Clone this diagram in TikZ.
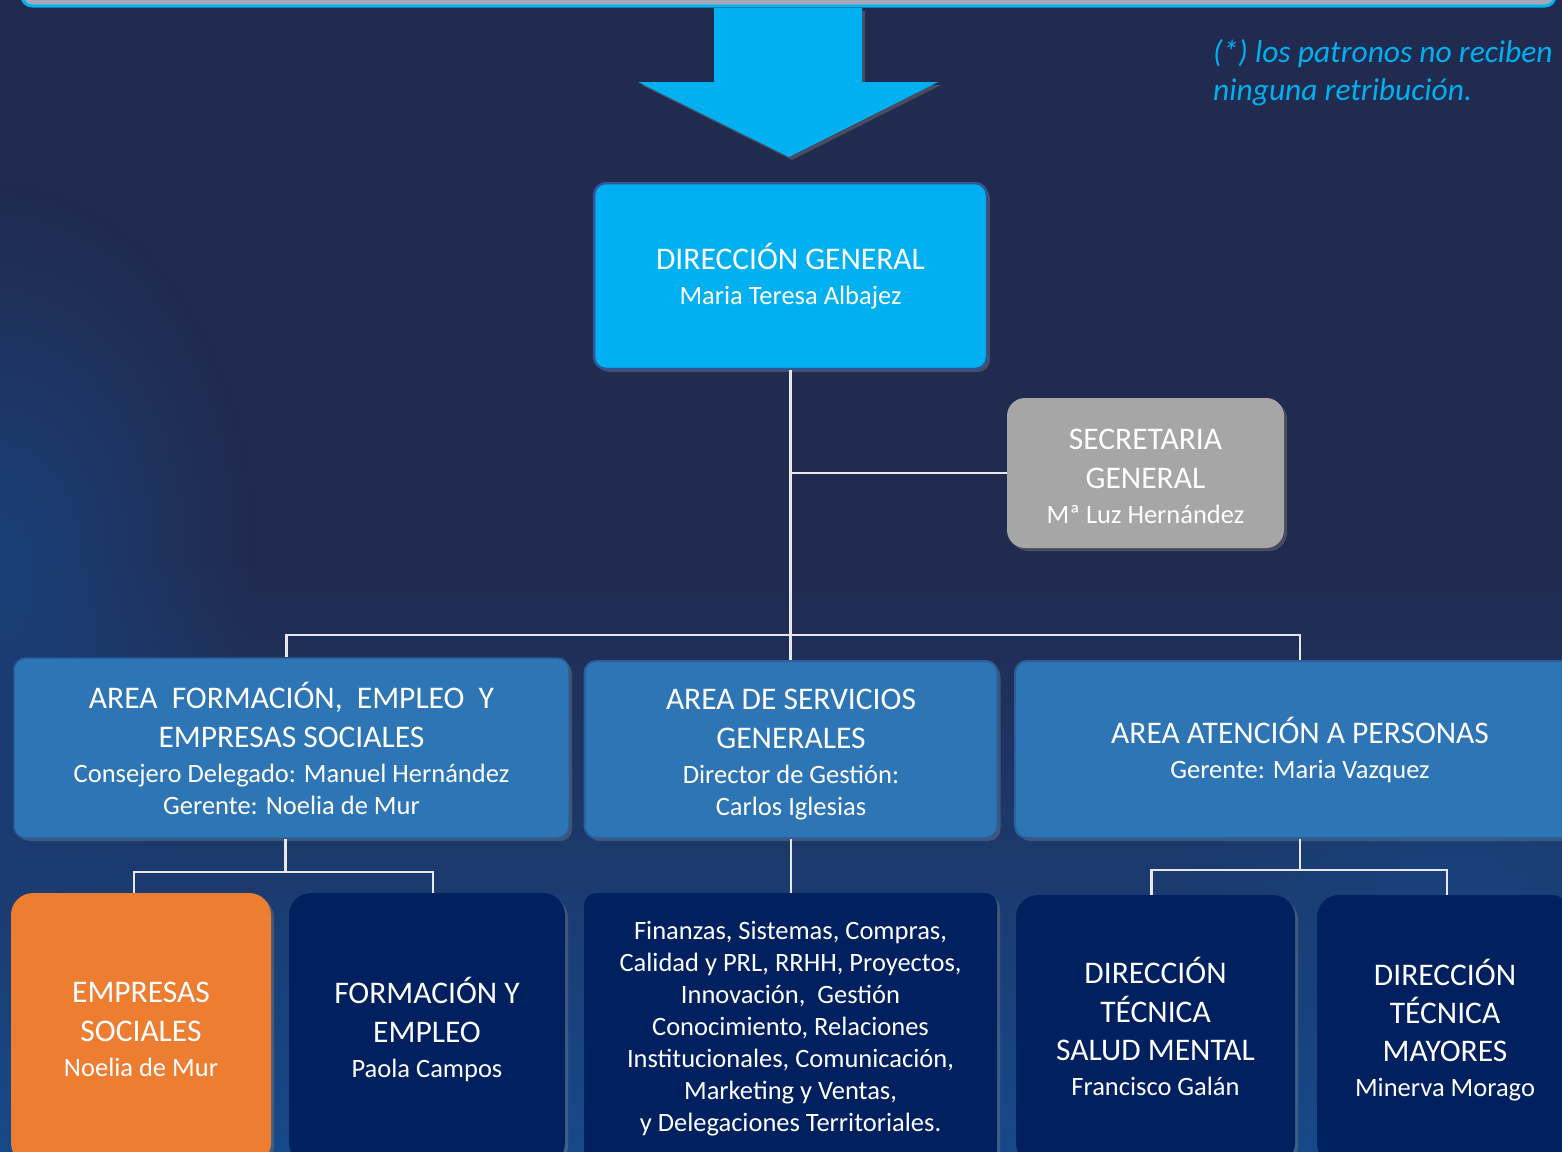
\documentclass[tikz,border=0pt]{standalone}
\usepackage{fontspec}
\setmainfont{Carlito}
\usetikzlibrary{shadows,fadings,calc}

\definecolor{bgtop}{HTML}{212A4F}
\definecolor{bgbot}{HTML}{16498A}
\definecolor{cyanb}{HTML}{00B0F0}
\definecolor{dgedge}{HTML}{2F5597}
\definecolor{greyb}{HTML}{A6A6A6}
\definecolor{areab}{HTML}{2E75B6}
\definecolor{areaedge}{HTML}{2A5E9C}
\definecolor{navyb}{HTML}{002060}
\definecolor{orangeb}{HTML}{ED7D31}
\definecolor{linec}{HTML}{E8E8EC}
\definecolor{barfill}{HTML}{A3A8B8}

\tikzfading[name=myglow, inner color=transparent!0, outer color=transparent!100]

\newcommand\BT[1]{{\fontsize{31.5}{32}\selectfont #1}}

\begin{document}
\begin{tikzpicture}[x=1pt,y=-1pt,
  orgbox/.style={rectangle, rounded corners=#1, align=center, text=white, inner sep=0pt,
     font=\fontsize{26.5}{32}\selectfont,
     drop shadow={opacity=0.4, shadow xshift=3pt, shadow yshift=-3pt}},
  orgbox/.default=12pt,
  conn/.style={draw=linec, line width=2.5pt}]

\useasboundingbox (0,0) rectangle (1562,1151);
\clip (0,0) rectangle (1562,1151);

% background
\fill[bgtop] (0,0) rectangle (1562,1151);
\shade[top color=bgtop, bottom color=bgbot] (0,560) rectangle (1562,1151);
\fill[bgbot, opacity=0.7, path fading=myglow] (0,560) ellipse [x radius=260pt, y radius=380pt];
\fill[bgbot, opacity=0.5, path fading=myglow] (1450,880) ellipse [x radius=260pt, y radius=200pt];

% top bar and arrow
\draw[fill=barfill, draw=cyanb, line width=3pt, rounded corners=10pt] (22,-40) rectangle (1555,6);
\fill[cyanb, drop shadow={opacity=0.4, shadow xshift=3pt, shadow yshift=-3pt}]
  (714,8) -- (862,8) -- (862,82) -- (938,82) -- (789,157) -- (638,82) -- (714,82) -- cycle;

% note
\node[anchor=north west, align=left, text=cyanb, inner sep=0pt,
      font=\itshape\fontsize{31.5}{38}\selectfont] (note) at (1213,39)
  {(*) los patronos no reciben\\ninguna retribución.};

% boxes
\node[orgbox=12pt, fill=cyanb, draw=dgedge, line width=2.5pt,
      minimum width=393, minimum height=186] (dg) at (790.5,276)
  {\BT{DIRECCIÓN GENERAL}\\[3pt]Maria Teresa Albajez};

\node[orgbox=18pt, fill=greyb, minimum width=277, minimum height=150] (sec) at (1145.5,473)
  {\rule{0pt}{26.5pt}\BT{SECRETARIA}\\[7pt]\BT{GENERAL}\\[3pt]Mª Luz Hernández};

\node[orgbox=12pt, fill=areab, draw=areaedge, line width=1.5pt,
      minimum width=555, minimum height=180] (a1) at (291.5,748)
  {\BT{AREA\ \ FORMACIÓN,\ \ EMPLEO\ \ Y}\\[7pt]\BT{EMPRESAS SOCIALES}\\[3pt]Consejero Delegado: Manuel Hernández\\Gerente: Noelia de Mur};

\node[orgbox=12pt, fill=areab, draw=areaedge, line width=2pt,
      minimum width=413, minimum height=177] (a2) at (791,749.5)
  {\rule{0pt}{30pt}\BT{AREA DE SERVICIOS}\\[7pt]\BT{GENERALES}\\[3pt]Director de Gestión:\\Carlos Iglesias};

\node[orgbox=12pt, fill=areab, draw=areaedge, line width=2pt,
      minimum width=570, minimum height=177] (a3) at (1300,749.5)
  {\BT{AREA ATENCIÓN A PERSONAS}\\[3pt]Gerente: Maria Vazquez};

\node[orgbox=22pt, fill=orangeb, minimum width=260, minimum height=272] (b1) at (141,1029)
  {\BT{EMPRESAS}\\[7pt]\BT{SOCIALES}\\[3pt]Noelia de Mur};

\node[orgbox=22pt, fill=navyb, minimum width=276, minimum height=272] (b2) at (427,1029)
  {\BT{FORMACIÓN Y}\\[7pt]\BT{EMPLEO}\\[3pt]Paola Campos};

\node[orgbox=12pt, fill=navyb, minimum width=413, minimum height=272] (b3) at (790.5,1029)
  {Finanzas, Sistemas, Compras,\\Calidad y PRL, RRHH, Proyectos,\\Innovación,\ \ Gestión\\Conocimiento, Relaciones\\Institucionales, Comunicación,\\Marketing y Ventas,\\y Delegaciones Territoriales.};

\node[orgbox=22pt, fill=navyb, minimum width=279, minimum height=270] (b4) at (1155.5,1030)
  {\BT{DIRECCIÓN}\\[7pt]\BT{TÉCNICA}\\[6pt]\BT{SALUD MENTAL}\\[3pt]Francisco Galán\rule[-8pt]{0pt}{8pt}};

\node[orgbox=22pt, fill=navyb, minimum width=256, minimum height=270] (b5) at (1445,1030)
  {\BT{DIRECCIÓN}\\[6pt]\BT{TÉCNICA}\\[6pt]\BT{MAYORES}\\[3pt]Minerva Morago};

% connectors
\coordinate (bus) at (790,635);
\coordinate (busl) at (0,872);
\coordinate (busr) at (0,870);

\draw[conn] (dg.south) -- (dg.south |- a2.north);
\draw[conn] (dg.south |- sec.west) -- (sec.west);
\draw[conn] ($(a1.north)+(-5,0)$) -- ($(a1.north |- bus)+(-5,0)$) -- (a3.north |- bus) -- (a3.north);

\draw[conn] ($(a1.south)+(-6,0)$) -- ($(a1.south |- busl)+(-6,0)$);
\draw[conn] ($(b1.north)+(-7,0)$) -- ($(b1.north |- busl)+(-7,0)$) -- ($(b2.north |- busl)+(6,0)$) -- ($(b2.north)+(6,0)$);

\draw[conn] (a2.south) -- (a2.south |- b3.north);

\draw[conn] (a3.south) -- (a3.south |- busr);
\draw[conn] ($(b4.north)+(-4,0)$) -- ($(b4.north |- busr)+(-4,0)$) -- ($(b5.north |- busr)+(2,0)$) -- ($(b5.north)+(2,0)$);

\end{tikzpicture}
\end{document}
